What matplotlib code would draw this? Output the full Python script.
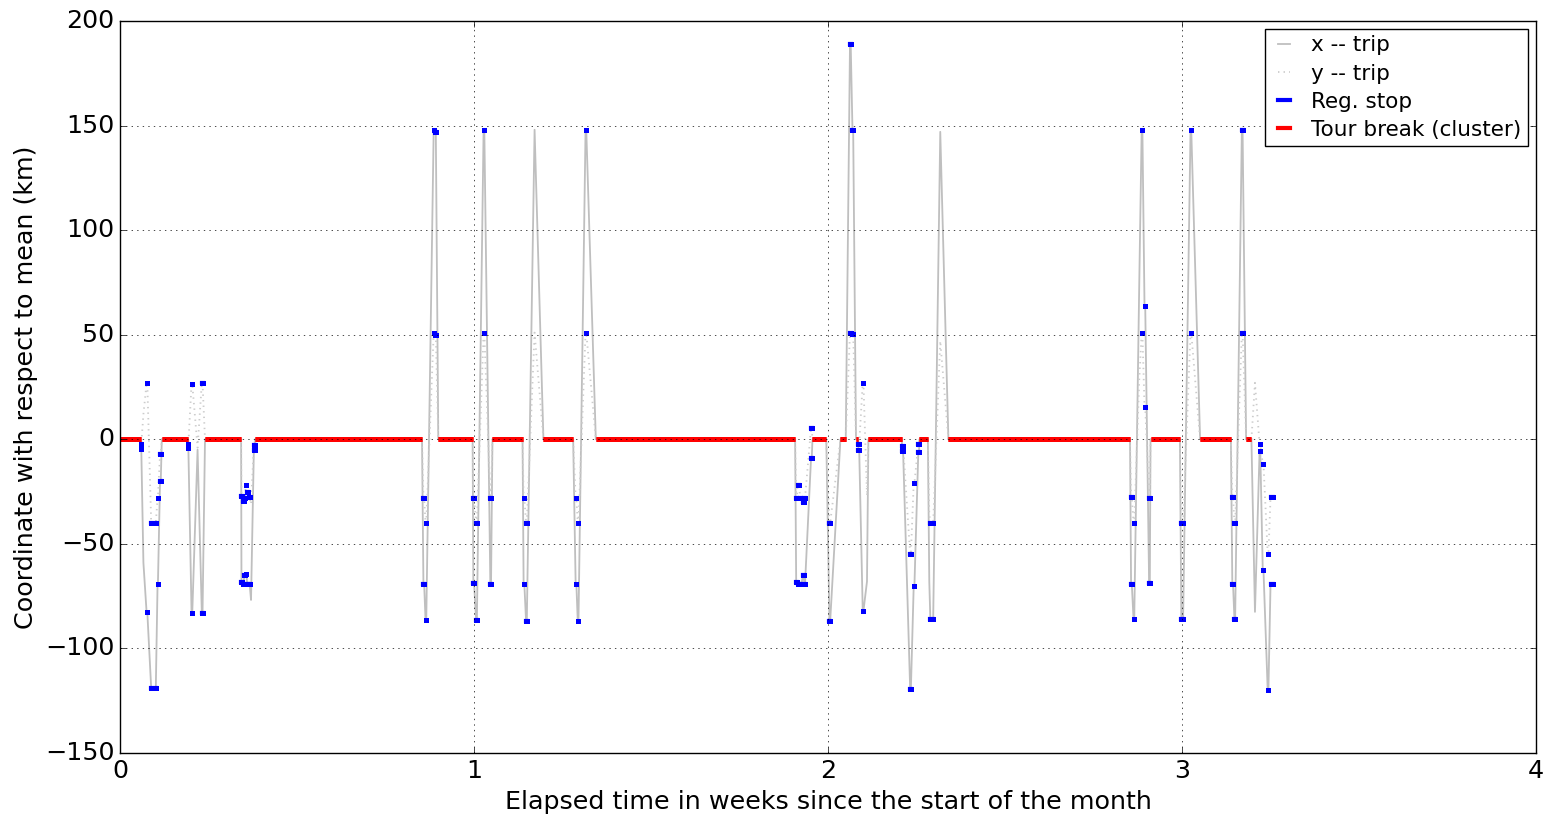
import matplotlib
matplotlib.use("Agg")
import matplotlib.pyplot as plt

# stops in time order: start/end (weeks), x and y offset (km), kind
# kind: "reg" = regular stop, "break" = tour break (cluster), "pass" = trip point only
stop_start = [0.000, 0.058, 0.066, 0.075, 0.088, 0.106, 0.113, 0.118, 0.191, 0.202,
              0.219, 0.231, 0.240, 0.343, 0.347, 0.351, 0.355, 0.359, 0.363, 0.370,
              0.378, 0.381,
              0.857, 0.863, 0.886, 0.890, 0.899, 0.998, 1.006, 1.027, 1.046, 1.052,
              1.140, 1.147, 1.171, 1.196, 1.287, 1.293, 1.315, 1.344,
              1.910, 1.914, 1.922, 1.929, 1.933, 1.952, 1.956, 2.004, 2.035, 2.062,
              2.069, 2.079, 2.086, 2.098, 2.110, 2.114, 2.210, 2.232, 2.242, 2.255,
              2.258, 2.286, 2.289, 2.317, 2.340,
              2.856, 2.863, 2.879, 2.886, 2.894, 2.907, 2.911, 2.998, 3.024, 3.051,
              3.142, 3.148, 3.169, 3.181, 3.206, 3.219, 3.228, 3.242, 3.250]
stop_end = [0.058, 0.060, 0.066, 0.077, 0.101, 0.107, 0.115, 0.191, 0.193, 0.204,
            0.219, 0.233, 0.342, 0.345, 0.349, 0.353, 0.357, 0.361, 0.366, 0.370,
            0.380, 0.853,
            0.859, 0.865, 0.888, 0.892, 0.996, 1.000, 1.008, 1.029, 1.048, 1.137,
            1.142, 1.149, 1.171, 1.280, 1.289, 1.295, 1.317, 1.907,
            1.912, 1.917, 1.925, 1.931, 1.935, 1.954, 1.995, 2.006, 2.050, 2.064,
            2.071, 2.085, 2.088, 2.100, 2.110, 2.208, 2.212, 2.234, 2.244, 2.257,
            2.282, 2.286, 2.297, 2.317, 2.853,
            2.858, 2.865, 2.879, 2.888, 2.896, 2.909, 2.994, 3.003, 3.026, 3.138,
            3.144, 3.150, 3.171, 3.196, 3.206, 3.221, 3.230, 3.244, 3.257]
stop_x = [0, -4.6, -59, -82.7, -119, -69, -20, 0, -4.3, -83,
          -5, -83, 0, -68, -69, -65, -64.5, -69, -69, -76.8,
          -5, 0,
          -69, -86.5, 148, 147, 0, -68.5, -86.5, 148, -69, 0,
          -69, -87, 148, 0, -69, -87, 148, 0,
          -68, -69, -69, -65, -69, -9, 0, -87, 0, 189,
          148, 0, -5, -82, -68, 0, -5.5, -119.5, -70, -6,
          0, -68, -86, 147, 0,
          -69, -86, 73, 148, 63.6, -68.5, 0, -86, 148, 0,
          -69, -86, 148, 0, -82.5, -5.8, -62.5, -120, -69]
stop_y = [0, -2.2, 12, 26.8, -40, -28, -7, 0, -2.2, 26.5,
          -4, 27, 0, -27, -29.5, -28, -22, -25, -27.5, -31,
          -2.6, 0,
          -28, -40, 51, 50, 0, -28, -40, 51, -28, 0,
          -28, -40, 51, 0, -28, -40, 51, 0,
          -28, -22, -28, -30, -28, 5.5, 0, -40, 0, 51,
          50.5, 0, -2.2, 27, -27, 0, -3, -55, -21, -2.3,
          0, -36, -40, 47, 0,
          -27.5, -40, 28, 51, 15.3, -28, 0, -40, 51, 0,
          -27.5, -40, 51, 0, 27, -2.2, -11.7, -55, -27.5]
stop_kind = ["break", "reg", "pass", "reg", "reg", "reg", "reg", "break", "reg", "reg",
             "pass", "reg", "break", "reg", "reg", "reg", "reg", "reg", "reg", "pass",
             "reg", "break",
             "reg", "reg", "reg", "reg", "break", "reg", "reg", "reg", "reg", "break",
             "reg", "reg", "pass", "break", "reg", "reg", "reg", "break",
             "reg", "reg", "reg", "reg", "reg", "reg", "break", "reg", "break", "reg",
             "reg", "break", "reg", "reg", "pass", "break", "reg", "reg", "reg", "reg",
             "break", "pass", "reg", "pass", "break",
             "reg", "reg", "pass", "reg", "reg", "reg", "break", "reg", "reg", "break",
             "reg", "reg", "reg", "break", "pass", "reg", "reg", "reg", "reg"]

plt.style.use('classic')
plt.rcParams['font.family'] = ['DejaVu Sans']

fig = plt.figure(figsize=(15.45, 8.17), dpi=100, facecolor='white')
ax = fig.add_axes([0.0777, 0.0783, 0.9165, 0.896])
ax.set_facecolor('white')

# trip lines run through every stop
trip_t, trip_x, trip_y = [], [], []
for t0, t1, xv, yv, k in zip(stop_start, stop_end, stop_x, stop_y, stop_kind):
    if k == "pass":
        trip_t.append(t0)
        trip_x.append(xv)
        trip_y.append(yv)
    else:
        trip_t += [t0, t1]
        trip_x += [xv, xv]
        trip_y += [yv, yv]

hx, = ax.plot(trip_t, trip_x, color='0.75', linewidth=1.3, label='x -- trip')
hy, = ax.plot(trip_t, trip_y, color='0.8', linewidth=1.3, linestyle=':', label='y -- trip')

for t0, t1, xv, yv, k in zip(stop_start, stop_end, stop_x, stop_y, stop_kind):
    if k == "reg":
        for v in (xv, yv):
            ax.plot([t0, t1], [v, v], color='b', linewidth=3,
                    marker='s', markersize=3.6, markeredgewidth=0,
                    markerfacecolor='b')
    elif k == "break":
        for v in (xv, yv):
            ax.plot([t0, t1], [v, v], color='r', linewidth=3.5,
                    solid_capstyle='butt')

ax.set_xlim(0, 4)
ax.set_ylim(-150, 200)
ax.set_xticks([0, 1, 2, 3, 4])
ax.set_yticks([-150, -100, -50, 0, 50, 100, 150, 200])
ax.grid(True, color='black', linestyle=':')
ax.tick_params(labelsize=18.3)
ax.set_xlabel('Elapsed time in weeks since the start of the month', fontsize=18.3)
ax.set_ylabel('Coordinate with respect to mean (km)', fontsize=18.3)

reg_line = plt.Line2D([], [], color='b', linewidth=3)
brk_line = plt.Line2D([], [], color='r', linewidth=3)
leg = ax.legend([hx, hy, reg_line, brk_line],
                ['x -- trip', 'y -- trip', 'Reg. stop', 'Tour break (cluster)'],
                loc='upper right', fontsize=15.5, handlelength=1.15, handletextpad=0.7,
                borderaxespad=0.37, labelspacing=0.38, borderpad=0.3)
leg.get_frame().set_facecolor('white')

plt.savefig('out.png', dpi=100, facecolor='white')
